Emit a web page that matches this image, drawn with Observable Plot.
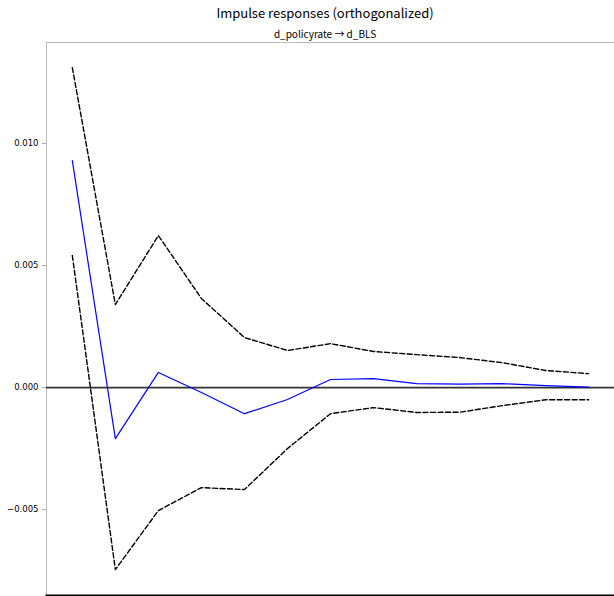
<!DOCTYPE html>
<html>
<head>
<meta charset="utf-8">
<script src="https://cdn.jsdelivr.net/npm/d3@7"></script>
<script src="https://cdn.jsdelivr.net/npm/@observablehq/plot@0.6"></script>
<style>
  html, body { margin: 0; padding: 0; background: #fff; }
  #wrap { position: relative; width: 614px; height: 596px; overflow: hidden; }
  .title { position: absolute; left: 0; width: 650px; text-align: center; font-family: "Noto Sans CJK KR", "Open Sans", sans-serif; color: #000; white-space: nowrap; line-height: 1; z-index: 2; }
  #t1 { top: 6px; font-size: 13px; }
  #t2 { top: 29px; font-size: 10px; }
  #chart { position: absolute; left: 0; top: 38px; z-index: 1; }
</style>
</head>
<body>
<div id="wrap">
  <div class="title" id="t1">Impulse responses (orthogonalized)</div>
  <div class="title" id="t2">d_policyrate → d_BLS</div>
  <div id="chart"></div>
</div>
<script>
const periods = [0, 1, 2, 3, 4, 5, 6, 7, 8, 9, 10, 11, 12];
const response = [0.00930, -0.00209, 0.00062, -0.00020, -0.00107, -0.00049, 0.00033, 0.00037, 0.00016, 0.00014, 0.00016, 0.00008, 0.00002];
const upper = [0.01311, 0.00340, 0.00623, 0.00365, 0.00205, 0.00152, 0.00180, 0.00148, 0.00135, 0.00123, 0.00102, 0.00070, 0.00057];
const lower = [0.00541, -0.00746, -0.00504, -0.00410, -0.00418, -0.00250, -0.00107, -0.00082, -0.00102, -0.00101, -0.00074, -0.00050, -0.00050];
const yTicks = [-0.005, 0.000, 0.005, 0.010];
const yTickLabels = ["−0.005", "0.000", "0.005", "0.010"];

const resp = periods.map((t, i) => ({t, v: response[i]}));
const up = periods.map((t, i) => ({t, v: upper[i]}));
const lo = periods.map((t, i) => ({t, v: lower[i]}));

const chart = Plot.plot({
  width: 614,
  height: 558,
  marginTop: 4,
  marginBottom: 1,
  marginLeft: 46,
  marginRight: 0,
  style: {fontFamily: "DejaVu Sans, sans-serif", fontSize: "8.5px", color: "#000", background: "transparent"},
  x: {domain: [-0.6, 12.6], axis: null},
  y: {domain: [-0.00852, 0.01414], label: null},
  marks: [
    Plot.axisY({ticks: yTicks, tickFormat: d => yTickLabels[yTicks.indexOf(d)], tickSize: 4, tickPadding: 4, label: null, stroke: "#aaa", color: "#000"}),
    Plot.frame({anchor: "left", stroke: "#bbb"}),
    Plot.frame({anchor: "top", stroke: "#bbb"}),
    Plot.frame({anchor: "bottom", stroke: "#000", strokeWidth: 2}),
    Plot.ruleY([0], {stroke: "#333", strokeWidth: 1.6}),
    Plot.line(up, {x: "t", y: "v", stroke: "#000", strokeWidth: 1.4, strokeDasharray: "5,2.5"}),
    Plot.line(lo, {x: "t", y: "v", stroke: "#000", strokeWidth: 1.4, strokeDasharray: "5,2.5"}),
    Plot.line(resp, {x: "t", y: "v", stroke: "#0000ff", strokeWidth: 1.2})
  ]
});
document.getElementById("chart").appendChild(chart);
</script>
</body>
</html>
